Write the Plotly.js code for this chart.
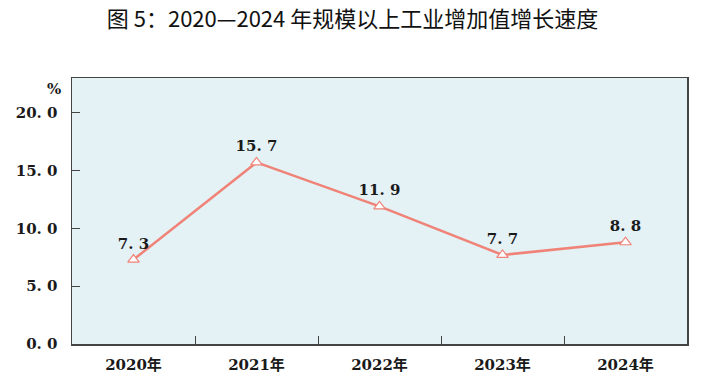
<!DOCTYPE html>
<html><head><meta charset="utf-8">
<script src="https://cdn.plot.ly/plotly-3.0.1.min.js"></script>
<style>body{margin:0;background:#fff}#c{width:705px;height:390px}</style>
</head><body><div id="c"></div>
<script>
const years = ["2020年","2021年","2022年","2023年","2024年"];
const growth = [7.3, 15.7, 11.9, 7.7, 8.8];
const growthLabels = ["7. 3","15. 7","11. 9","7. 7","8. 8"];
const yTickVals = [0, 5, 10, 15, 20];
const yTickText = ["0. 0","5. 0","10. 0","15. 0","20. 0"];

const serif = "DejaVu Serif, Noto Sans CJK SC, serif";
const trace = {
  x: years, y: growth, type: "scatter", mode: "lines+markers+text",
  text: growthLabels, textposition: "top center",
  textfont: {family: serif, size: 15, color: "#1a1a1a", weight: "bold"},
  line: {color: "#f08377", width: 2.5},
  marker: {symbol: "triangle-up", size: 10, color: "#ffffff", line: {width: 1.2, color: "#f08377"}},
  cliponaxis: false, hoverinfo: "skip"
};
const layout = {
  width: 705, height: 390,
  margin: {l: 72, r: 18, t: 78, b: 46},
  paper_bgcolor: "#ffffff", plot_bgcolor: "#e4f1f5",
  showlegend: false,
  title: {text: "图 5：2020—2024 年规模以上工业增加值增长速度", x: 0.5, xanchor: "center", y: 0.95, yanchor: "middle",
    font: {family: "Noto Sans CJK SC, sans-serif", size: 22, color: "#111", weight: "normal"}},
  xaxis: {type: "category", range: [-0.5, 4.5], showline: true, mirror: true, linecolor: "#444", linewidth: 1.5,
    ticks: "inside", tickson: "boundaries", ticklen: 8, tickcolor: "#444", showgrid: false, zeroline: false,
    ticklabelstandoff: 6,
    tickfont: {family: serif, size: 15, color: "#1a1a1a", weight: "bold"}},
  yaxis: {range: [0, 23], tickvals: yTickVals, ticktext: yTickText, showline: true, mirror: true, linecolor: "#444", linewidth: 1.5,
    ticks: "inside", ticklen: 8, tickcolor: "#444", showgrid: false, zeroline: false, ticklabelstandoff: 10,
    tickfont: {family: serif, size: 15, color: "#1a1a1a", weight: "bold"}},
  annotations: [{text: "%", xref: "paper", yref: "paper", x: -0.015, y: 1.0, xanchor: "right", yanchor: "top", showarrow: false,
    font: {family: serif, size: 15, color: "#1a1a1a", weight: "bold"}}]
};
Plotly.newPlot("c", [trace], layout, {staticPlot: true});
</script></body></html>
